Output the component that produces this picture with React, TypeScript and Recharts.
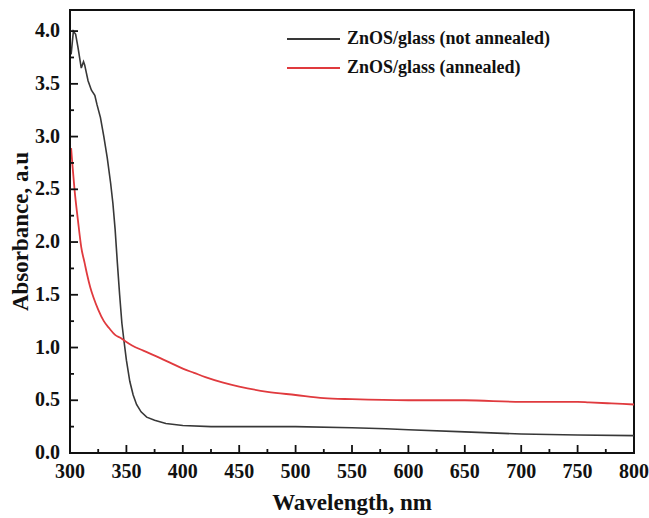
import { LineChart, Line, XAxis, YAxis, ReferenceArea } from "recharts";

// black curve: ZnOS/glass (not annealed)
const wlNotAnnealed = [
  301, 303, 305, 307, 310, 312, 313, 316, 319, 322, 324, 327, 330, 333, 336,
  338, 340, 342, 344, 346, 348, 350, 353, 356, 359, 363, 368, 375, 385, 400,
  425, 450, 500, 550, 580, 600, 650, 700, 750, 800,
];
const absNotAnnealed = [
  3.78, 4.0, 3.97, 3.85, 3.65, 3.71, 3.68, 3.53, 3.44, 3.39, 3.3, 3.18, 3.0,
  2.8, 2.56, 2.37, 2.12, 1.8, 1.5, 1.23, 1.05, 0.88, 0.68, 0.55, 0.46, 0.39,
  0.34, 0.31, 0.28, 0.26, 0.25, 0.25, 0.25, 0.24, 0.23, 0.22, 0.2, 0.18, 0.17,
  0.165,
];

// red curve: ZnOS/glass (annealed)
const wlAnnealed = [
  301, 302, 304, 307, 310, 313, 315, 318, 321, 325, 330, 335, 340, 345, 349,
  355, 365, 380, 390, 400, 410, 420, 435, 450, 475, 500, 525, 550, 600, 650,
  700, 750, 760, 780, 800,
];
const absAnnealed = [
  2.89, 2.75, 2.5, 2.21, 1.95, 1.8, 1.7, 1.57, 1.47, 1.36, 1.25, 1.18, 1.12,
  1.09, 1.06, 1.02, 0.97, 0.9, 0.85, 0.8, 0.76, 0.72, 0.67, 0.63, 0.58, 0.55,
  0.52, 0.51, 0.5, 0.5, 0.485, 0.485, 0.48, 0.47, 0.46,
];

const xTicks = [300, 325, 350, 375, 400, 425, 450, 475, 500, 525, 550, 575, 600, 625, 650, 675, 700, 725, 750, 775, 800];
const yTicks = [0, 0.25, 0.5, 0.75, 1, 1.25, 1.5, 1.75, 2, 2.25, 2.5, 2.75, 3, 3.25, 3.5, 3.75, 4];

const seriesNames = ["ZnOS/glass (not annealed)", "ZnOS/glass (annealed)"];
const seriesColors = ["#383838", "#e03a3e"];

const notAnnealed = wlNotAnnealed.map((w, i) => ({ w, a: absNotAnnealed[i] }));
const annealed = wlAnnealed.map((w, i) => ({ w, a: absAnnealed[i] }));

const FONT = "'Liberation Serif', 'Times New Roman', serif";
const AXIS_X = 70;
const AXIS_Y = 453;

const XTick = (props: any) => {
  const { payload } = props;
  const x = payload.coordinate;
  const major = payload.value % 50 === 0;
  return (
    <g>
      <line x1={x} x2={x} y1={AXIS_Y} y2={AXIS_Y - (major ? 8 : 4)} stroke="#111" strokeWidth={1.8} />
      {major && (
        <text x={x} y={AXIS_Y + 25} textAnchor="middle" fontFamily={FONT} fontWeight="bold" fontSize={20} fill="#111">
          {payload.value}
        </text>
      )}
    </g>
  );
};

const YTick = (props: any) => {
  const { payload } = props;
  const y = payload.coordinate;
  const major = Math.abs(payload.value * 2 - Math.round(payload.value * 2)) < 1e-6;
  return (
    <g>
      <line x1={AXIS_X} x2={AXIS_X + (major ? 8 : 4)} y1={y} y2={y} stroke="#111" strokeWidth={1.8} />
      {major && (
        <text x={AXIS_X - 10} y={y + 6} textAnchor="end" fontFamily={FONT} fontWeight="bold" fontSize={20} fill="#111">
          {payload.value.toFixed(1)}
        </text>
      )}
    </g>
  );
};

export default function App() {
  return (
    <div style={{ position: "absolute", left: 0, top: 0, width: 649, height: 518, background: "#fff" }}>
      <LineChart width={649} height={518} margin={{ top: 10, right: 15, left: 0, bottom: 0 }}>
        <XAxis
          dataKey="w"
          type="number"
          domain={[300, 800]}
          ticks={xTicks}
          interval={0}
          height={65}
          axisLine={{ stroke: "#111", strokeWidth: 2 }}
          tickLine={false}
          tick={<XTick />}
          label={{ value: "Wavelength, nm", position: "insideBottom", offset: 8, style: { fontFamily: FONT, fontWeight: "bold", fontSize: 23, fill: "#111" } }}
        />
        <YAxis
          dataKey="a"
          type="number"
          domain={[0, 4.2]}
          ticks={yTicks}
          interval={0}
          width={70}
          axisLine={{ stroke: "#111", strokeWidth: 2 }}
          tickLine={false}
          tick={<YTick />}
          label={{ value: "Absorbance, a.u", angle: -90, position: "insideLeft", offset: 20, style: { textAnchor: "middle", fontFamily: FONT, fontWeight: "bold", fontSize: 23, fill: "#111" } }}
        />
        <ReferenceArea x1={300} x2={800} y1={0} y2={4.2} fill="none" stroke="#111" strokeWidth={2} ifOverflow="visible" />
        <Line data={notAnnealed} dataKey="a" name={seriesNames[0]} stroke={seriesColors[0]} strokeWidth={1.6} dot={false} type="linear" isAnimationActive={false} />
        <Line data={annealed} dataKey="a" name={seriesNames[1]} stroke={seriesColors[1]} strokeWidth={1.8} dot={false} type="monotone" isAnimationActive={false} />
      </LineChart>
      <div style={{ position: "absolute", left: 287, top: 24, fontFamily: FONT, fontWeight: "bold", fontSize: 18, color: "#111", lineHeight: "29px", whiteSpace: "nowrap" }}>
        {seriesNames.map((name, i) => (
          <div key={name} style={{ display: "flex", alignItems: "center" }}>
            <span style={{ display: "inline-block", width: 53, height: 0, borderTop: `2px solid ${seriesColors[i]}`, marginRight: 7 }} />
            {name}
          </div>
        ))}
      </div>
    </div>
  );
}
